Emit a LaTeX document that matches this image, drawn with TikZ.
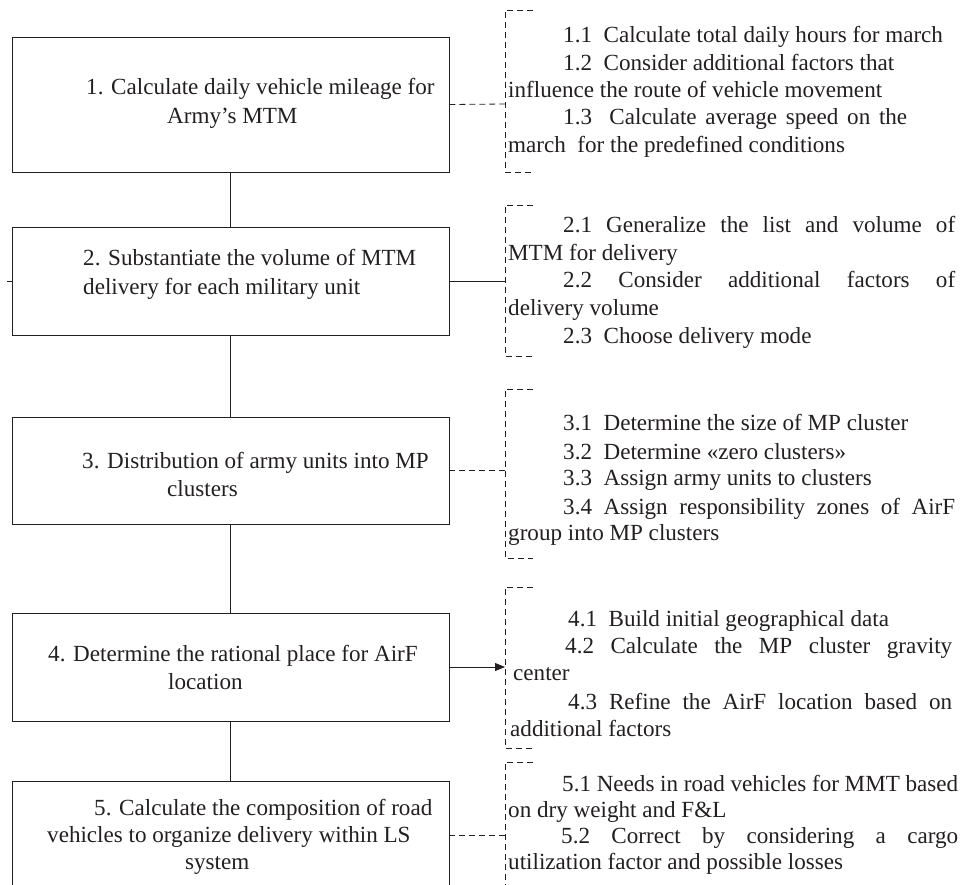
\documentclass[tikz,border=0pt]{standalone}
\usepackage{fontspec}
\setmainfont{Liberation Serif}
\usetikzlibrary{arrows.meta}
\definecolor{ink}{RGB}{35,31,32}
\begin{document}
\begin{tikzpicture}[x=1pt,y=-1pt,
  stepbox/.style={draw=ink, line width=0.9pt, minimum width=437pt, inner sep=0pt},
  txt/.style={anchor=base west, inner sep=0pt, text=ink, font=\fontsize{23.1}{27.5}\selectfont},
  link/.style={draw=ink, line width=0.8pt},
  dlink/.style={link, dash pattern=on 6pt off 4pt},
  bracket/.style={draw=ink, line width=0.8pt, dash pattern=on 6pt off 4pt}]
\useasboundingbox (0,0) rectangle (976,884);
\clip (0,0) rectangle (976,884);

% main steps
\node[stepbox, minimum height=135pt] (b1) at (230.5,104.5) {};
\node[stepbox, minimum height=108pt] (b2) at (230.5,281) {};
\node[stepbox, minimum height=107pt] (b3) at (230.5,470.5) {};
\node[stepbox, minimum height=108pt] (b4) at (230.5,667) {};
\node[stepbox, minimum height=140pt] (b5) at (230.5,851) {};

% step captions
\node[txt] (b1a) at (86,94)  {1. Calculate daily vehicle mileage for};
\node[txt] (b1b) at (167,123) {Army's MTM};
\node[txt] (b2a) at (83,265) {2. Substantiate the volume of MTM};
\node[txt] (b2b) at (83,294) {delivery for each military unit};
\node[txt] (b3a) at (82,468) {3. Distribution of army units into MP};
\node[txt] (b3b) at (167,496) {clusters};
\node[txt] (b4a) at (48,661) {4. Determine the rational place for AirF};
\node[txt] (b4b) at (168,689) {location};
\node[txt] (b5a) at (94,815) {5. Calculate the composition of road};
\node[txt] (b5b) at (47,842) {vehicles to organize delivery within LS};
\node[txt] (b5c) at (185,869) {system};

% chain between steps
\draw[link] (b1) -- (b2);
\draw[link] (b2) -- (b3);
\draw[link] (b3) -- (b4);
\draw[link] (b4) -- (b5);
\coordinate (t2) at (7,281);
\draw[link] (t2) -- (b2.west);

% sub-step brackets
\coordinate (k1) at (505,104);
\coordinate (k2) at (505,281);
\coordinate (k3) at (505,470.5);
\coordinate (k4) at (505,667);
\coordinate (k5) at (505,835);
\draw[bracket] (533,10) -- (505,10) -- (505,172) -- (533,172);
\draw[bracket] (533,205) -- (505,205) -- (505,356) -- (533,356);
\draw[bracket] (533,389) -- (505,389) -- (505,558) -- (533,558);
\draw[bracket] (533,587) -- (505,587) -- (505,748) -- (533,748);
\draw[bracket] (533,762) -- (505,762) -- (505,900);

% links from steps to their sub-steps
\draw[dlink] (b1.east) -- (k1);
\draw[link] (b2.east) -- (k2);
\draw[dlink] (b3.east) -- (k3);
\draw[link, -{Triangle[length=10pt,width=8pt]}] (b4.east) -- (k4);
\draw[dlink] (k5 -| b5.east) -- (k5);

% sub-steps 1
\node[txt] (s1a) at (563,42)  {1.1~~Calculate total daily hours for march};
\node[txt] (s1b) at (563,70)  {1.2~~Consider additional factors that};
\node[txt] (s1c) at (508,97)  {influence the route of vehicle movement};
\node[txt] (s1d) at (563,124) {\makebox[344pt][s]{1.3~~Calculate average speed on the}};
\node[txt] (s1e) at (508,152) {march~~for the predefined conditions};

% sub-steps 2
\node[txt] (s2a) at (563,232) {\makebox[392pt][s]{2.1 Generalize the list and volume of}};
\node[txt] (s2b) at (508,260) {MTM for delivery};
\node[txt] (s2c) at (563,287) {\makebox[392pt][s]{2.2 Consider additional factors of}};
\node[txt] (s2d) at (508,315) {delivery volume};
\node[txt] (s2e) at (563,343) {2.3~~Choose delivery mode};

% sub-steps 3
\node[txt] (s3a) at (563,430) {3.1~~Determine the size of MP cluster};
\node[txt] (s3b) at (563,459) {3.2~~Determine «zero clusters»};
\node[txt] (s3c) at (563,485) {3.3~~Assign army units to clusters};
\node[txt] (s3d) at (563,514) {\makebox[392pt][s]{3.4 Assign responsibility zones of AirF}};
\node[txt] (s3e) at (508,540) {group into MP clusters};

% sub-steps 4
\node[txt] (s4a) at (568,626) {4.1~~Build initial geographical data};
\node[txt] (s4b) at (565,653) {\makebox[387pt][s]{4.2 Calculate the MP cluster gravity}};
\node[txt] (s4c) at (513,680) {center};
\node[txt] (s4d) at (568,709) {\makebox[384pt][s]{4.3 Refine the AirF location based on}};
\node[txt] (s4e) at (510,736) {additional factors};

% sub-steps 5
\node[txt] (s5a) at (562,791) {\makebox[396pt][s]{5.1 Needs in road vehicles for MMT based}};
\node[txt] (s5b) at (508,817) {on dry weight and F\&L};
\node[txt] (s5c) at (561,843) {\makebox[397pt][s]{5.2 Correct by considering a cargo}};
\node[txt] (s5d) at (508,869) {utilization factor and possible losses};
\end{tikzpicture}
\end{document}
